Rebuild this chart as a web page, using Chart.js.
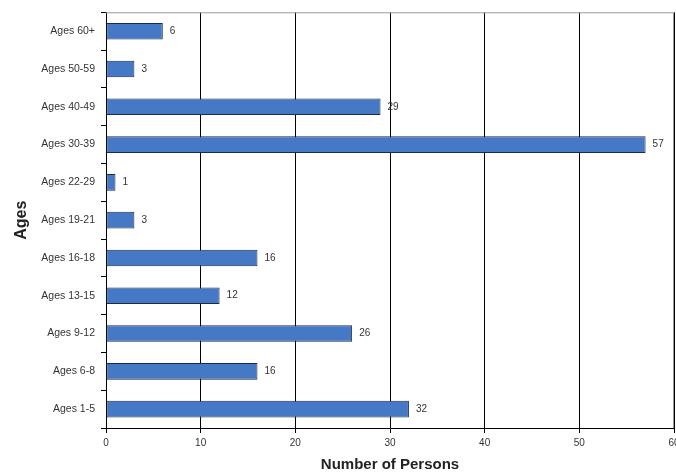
<!DOCTYPE html>
<html>
<head>
<meta charset="utf-8">
<script src="https://cdn.jsdelivr.net/npm/chart.js@4/dist/chart.umd.min.js"></script>
<style>
  body { margin: 0; background: #fff; }
  canvas { display: block; }
</style>
</head>
<body>
<canvas id="chart" width="676" height="474"></canvas>
<script>
const ageGroups = ["Ages 60+", "Ages 50-59", "Ages 40-49", "Ages 30-39", "Ages 22-29", "Ages 19-21",
  "Ages 16-18", "Ages 13-15", "Ages 9-12", "Ages 6-8", "Ages 1-5"];
const persons = [6, 3, 29, 57, 1, 3, 16, 12, 26, 16, 32];
const xTicks = [0, 10, 20, 30, 40, 50, 60];

// value labels next to each bar, plus a gray frame on top/right
const barLabels = {
  id: "barLabels",
  afterDatasetsDraw(chart) {
    const ctx = chart.ctx;
    const area = chart.chartArea;
    ctx.save();
    ctx.strokeStyle = "#999";
    ctx.lineWidth = 1;
    ctx.beginPath();
    ctx.moveTo(area.left, area.top + 0.5);
    ctx.lineTo(area.right - 0.5, area.top + 0.5);
    ctx.lineTo(area.right - 0.5, area.bottom);
    ctx.stroke();

    ctx.font = "10px Arial, 'Liberation Sans'";
    ctx.fillStyle = "#333";
    ctx.textBaseline = "middle";
    chart.getDatasetMeta(0).data.forEach((bar, i) => {
      ctx.fillText(persons[i], bar.x + 7, bar.y);
    });
    ctx.restore();
  }
};

new Chart(document.getElementById("chart").getContext("2d"), {
  type: "bar",
  data: {
    labels: ageGroups,
    datasets: [{
      data: persons,
      backgroundColor: "#4679c5",
      borderColor: "#1c2c48",
      borderWidth: 1,
      borderSkipped: false,
      barPercentage: 0.44,
      categoryPercentage: 1
    }]
  },
  options: {
    indexAxis: "y",
    responsive: false,
    animation: false,
    layout: { padding: { top: 10, right: 2, left: 0, bottom: 0 } },
    plugins: { legend: { display: false }, tooltip: { enabled: false } },
    scales: {
      x: {
        min: 0,
        max: 60,
        afterBuildTicks: axis => { axis.ticks = xTicks.map(v => ({ value: v })); },
        afterFit: axis => { axis.height = 46; axis.paddingRight = 0; },
        grid: { color: "#000", lineWidth: 1, tickLength: 5, drawOnChartArea: true },
        border: { color: "#000" },
        ticks: { color: "#333", font: { size: 10, family: "Arial, 'Liberation Sans'" }, padding: 4 },
        title: {
          display: true,
          text: "Number of Persons",
          color: "#222",
          font: { size: 15, weight: "bold", family: "Arial, 'Liberation Sans'" },
          padding: { top: 2, bottom: 0 }
        }
      },
      y: {
        afterFit: axis => { axis.width = 106; },
        grid: { offset: true, drawOnChartArea: false, color: "#000", tickLength: 5 },
        border: { color: "#000" },
        ticks: { color: "#333", font: { size: 10.5, family: "Arial, 'Liberation Sans'" }, padding: 6 },
        title: {
          display: true,
          text: "Ages",
          color: "#222",
          font: { size: 16, weight: "bold", family: "Arial, 'Liberation Sans'" },
          padding: { top: 12, bottom: 0 }
        }
      }
    }
  },
  plugins: [barLabels]
});
</script>
</body>
</html>
